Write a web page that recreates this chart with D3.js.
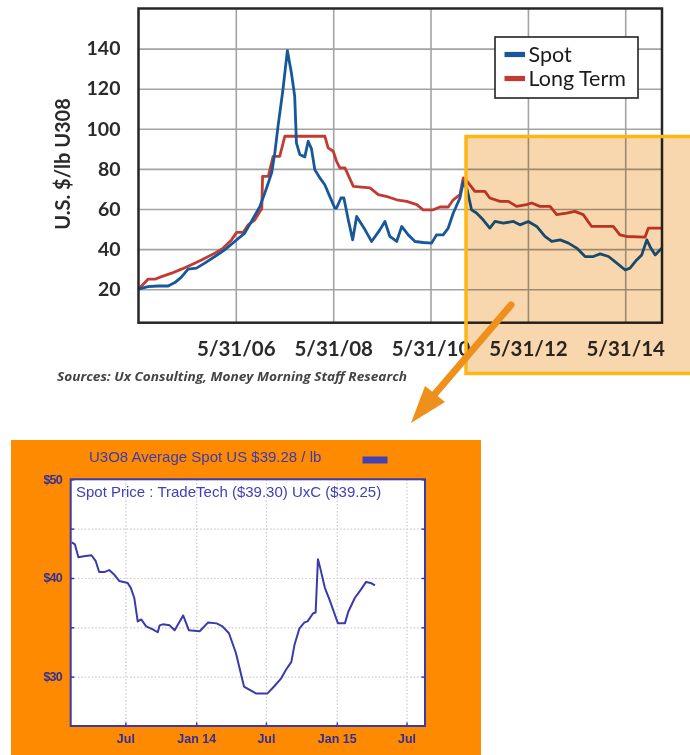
<!DOCTYPE html>
<html><head><meta charset="utf-8">
<script src="https://cdn.jsdelivr.net/npm/d3@7"></script>
<style>body{margin:0;background:#fff}svg{display:block}</style>
</head><body>
<svg id="c" width="690" height="755"></svg>
<script>
// ---------- Top chart data ----------
const seriesNames = ["Spot", "Long Term"];
const spotSeries = [
["2004-05-31",20],["2004-08-10",21.3],["2004-10-25",21.6],["2005-01-08",21.6],["2005-02-28",23.3],
["2005-04-18",26],["2005-06-07",30],["2005-08-09",30.5],["2005-10-10",33],["2005-12-25",36.3],
["2006-03-09",39.6],["2006-05-23",43.8],["2006-08-06",48],["2006-09-25",53.8],["2006-11-28",61.3],
["2007-01-17",70.5],["2007-02-24",78],["2007-03-20",88],["2007-04-13",101.3],["2007-05-20",119.6],
["2007-06-22",139],["2007-07-22",128],["2007-08-16",116.3],["2007-08-29",93],["2007-09-23",87.2],
["2007-10-31",86],["2007-11-25",93.8],["2007-12-20",90],["2008-01-14",79.6],["2008-02-21",75.5],
["2008-03-29",72.1],["2008-05-05",66.3],["2008-06-12",60.5],["2008-06-25",60.5],["2008-07-28",65.5],
["2008-08-19",65.5],["2008-09-21",54.6],["2008-10-24",44.6],["2008-11-23",56.3],["2009-01-25",49.6],
["2009-03-15",43.8],["2009-05-16",49.6],["2009-06-23",53.8],["2009-07-30",46.3],["2009-09-19",43.8],
["2009-10-27",51.3],["2009-12-15",47.1],["2010-02-04",43.8],["2010-04-06",43.3],["2010-06-08",43],
["2010-07-15",47.1],["2010-09-03",47.1],["2010-10-11",50.5],["2010-11-18",58],["2011-01-07",65.5],
["2011-02-01",73.5],["2011-03-02",69.6],["2011-04-04",59.6],["2011-05-11",58],["2011-06-30",54.6],
["2011-08-19",50.5],["2011-09-27",53.8],["2011-11-28",53],["2012-02-12",53.8],["2012-04-01",52.1],
["2012-06-03",53.8],["2012-08-05",51.3],["2012-10-06",46.3],["2012-11-26",43.8],["2013-01-28",44.6],
["2013-03-31",43],["2013-06-01",40.5],["2013-08-03",36.3],["2013-10-04",36.3],["2013-11-24",37.6],
["2014-01-26",36.3],["2014-03-29",33],["2014-05-31",29.6],["2014-07-06",30.5],["2014-08-25",34.6],
["2014-10-02",37.1],["2014-11-09",44.6],["2014-12-09",40.5],["2015-01-11",37.1],["2015-03-01",40.5]
];
const longTermSeries = [
["2004-05-31",20],["2004-08-10",25],["2004-10-01",25],["2004-11-20",26.3],["2005-02-04",28],
["2005-04-18",30],["2005-07-02",32.2],["2005-09-16",34.6],["2005-12-25",38],["2006-02-25",40.5],
["2006-04-29",44.6],["2006-06-05",48.3],["2006-07-25",48.3],["2006-09-01",52.1],["2006-10-21",54.6],
["2006-11-28",58.8],["2006-12-12",60],["2006-12-18",76.3],["2007-01-30",76.3],["2007-03-07",86.3],
["2007-04-26",86.3],["2007-06-03",96.3],["2008-03-29",96.3],["2008-04-23",90.5],["2008-05-31",88.8],
["2008-06-25",83.8],["2008-07-20",80.5],["2008-08-27",80.5],["2008-10-29",71.3],["2009-03-03",70.5],
["2009-05-04",67.2],["2009-07-18",66],["2009-09-19",64.6],["2009-12-04",63.8],["2010-02-17",62.2],
["2010-04-06",59.6],["2010-06-20",59.6],["2010-08-10",61],["2010-10-11",61],["2010-11-18",64.6],
["2011-01-07",67.2],["2011-02-01",75.5],["2011-03-02",73.8],["2011-04-29",68.8],["2011-07-13",68.8],
["2011-08-19",65.5],["2011-11-04",63.8],["2012-01-05",63.8],["2012-03-07",61.3],["2012-05-21",62.2],
["2012-06-28",63],["2012-08-29",61.3],["2012-11-13",61.3],["2013-01-02",57.2],["2013-03-17",58],
["2013-05-18",58.8],["2013-07-20",57.2],["2013-09-21",51.3],["2014-03-02",51.3],["2014-04-21",47.1],
["2014-06-10",46.3],["2014-10-27",46],["2014-11-21",50.5],["2015-03-01",50.5]
];
const topYTicks = [20, 40, 60, 80, 100, 120, 140];
const topXTickDates = ["2006-05-31","2008-05-31","2010-05-31","2012-05-31","2014-05-31"];
const topXTickLabels = ["5/31/06","5/31/08","5/31/10","5/31/12","5/31/14"];
const topYTitle = "U.S. $/lb U308";
const sourceText = "Sources: Ux Consulting, Money Morning Staff Research";

// ---------- Inset chart data ----------
const insetTitle = "U3O8 Average Spot US $39.28 / lb";
const insetSubtitle = "Spot Price : TradeTech ($39.30) UxC ($39.25)";
const insetSeries = [
["2013-02-12",43.6],["2013-02-20",43.4],["2013-03-01",42.1],["2013-03-15",42.2],["2013-04-04",42.3],
["2013-04-15",41.7],["2013-04-24",40.6],["2013-05-07",40.6],["2013-05-20",40.8],["2013-06-03",40.3],
["2013-06-15",39.7],["2013-07-07",39.5],["2013-07-15",39.0],["2013-07-24",38.0],["2013-08-02",35.6],
["2013-08-11",35.8],["2013-08-24",35.1],["2013-09-10",34.8],["2013-09-23",34.5],["2013-09-28",35.2],
["2013-10-06",35.3],["2013-10-24",35.2],["2013-11-06",34.7],["2013-11-28",36.2],["2013-12-13",34.7],
["2014-01-10",34.6],["2014-02-01",35.5],["2014-02-23",35.4],["2014-03-10",35.1],["2014-03-27",34.4],
["2014-04-14",32.4],["2014-05-05",29.0],["2014-06-05",28.3],["2014-07-05",28.3],["2014-07-22",29.0],
["2014-08-09",29.8],["2014-08-22",30.7],["2014-09-05",31.5],["2014-09-13",33.2],["2014-09-26",34.9],
["2014-10-09",35.5],["2014-10-17",35.6],["2014-10-31",36.4],["2014-11-07",36.5],["2014-11-13",41.9],
["2014-11-19",41.0],["2014-12-01",39.0],["2014-12-13",37.8],["2014-12-24",36.6],["2015-01-04",35.4],
["2015-01-22",35.4],["2015-01-31",36.6],["2015-02-17",38.0],["2015-03-04",38.8],["2015-03-18",39.6],
["2015-03-30",39.5],["2015-04-10",39.25]
];
const insetGridValues = [30, 35, 40, 45, 50];
const insetYLabelValues = [50, 40, 30];
const insetXTickDates = ["2013-07-01","2014-01-01","2014-07-01","2015-01-01","2015-07-01"];
const insetXTickLabels = ["Jul","Jan 14","Jul","Jan 15","Jul"];

// ---------- Rendering ----------
const parse = d3.timeParse("%Y-%m-%d");
const svg = d3.select("#c");

// Top chart geometry
const T = {left:138.5, right:662, top:8.5, bottom:322.7};
const xT = d3.scaleTime().domain([parse("2004-05-31"), parse("2015-03-03")]).range([T.left, T.right]);
const yT = d3.scaleLinear().domain([3.3, 160]).range([T.bottom, T.top]);

const gTop = svg.append("g");
// grid
gTop.append("g").call(d3.axisLeft(yT).tickValues(topYTicks).tickSize(-(T.right-T.left)).tickFormat(""))
  .attr("transform",`translate(${T.left},0)`)
  .call(g=>g.select(".domain").remove())
  .call(g=>g.selectAll("line").attr("stroke","#a3a3a3").attr("stroke-width",1.6));
gTop.append("g").call(d3.axisBottom(xT).tickValues(topXTickDates.map(parse)).tickSize(-(T.bottom-T.top)).tickFormat(""))
  .attr("transform",`translate(0,${T.bottom})`)
  .call(g=>g.select(".domain").remove())
  .call(g=>g.selectAll("line").attr("stroke","#a3a3a3").attr("stroke-width",1.6));

const lineT = d3.line().x(d=>xT(parse(d[0]))).y(d=>yT(d[1]));
gTop.append("path").datum(longTermSeries).attr("d",lineT).attr("fill","none")
  .attr("stroke","#c23b33").attr("stroke-width",2.8).attr("stroke-linejoin","round");
gTop.append("path").datum(spotSeries).attr("d",lineT).attr("fill","none")
  .attr("stroke","#17589c").attr("stroke-width",2.8).attr("stroke-linejoin","round");

// frame
gTop.append("rect").attr("x",T.left).attr("y",T.top).attr("width",T.right-T.left).attr("height",T.bottom-T.top)
  .attr("fill","none").attr("stroke","#262626").attr("stroke-width",2.5);

// y tick labels
gTop.append("g").call(d3.axisLeft(yT).tickValues(topYTicks).tickSize(0).tickPadding(18))
  .attr("transform",`translate(${T.left},0)`)
  .call(g=>g.select(".domain").remove())
  .call(g=>g.selectAll("text").attr("font-family","Lato, sans-serif").attr("font-weight","bold")
    .attr("font-size",19.5).attr("fill","#2a2a2a"));
// x tick labels
gTop.append("g").call(d3.axisBottom(xT).tickValues(topXTickDates.map(parse)).tickSize(0).tickPadding(19)
    .tickFormat((d,i)=>topXTickLabels[i]))
  .attr("transform",`translate(0,${T.bottom})`)
  .call(g=>g.select(".domain").remove())
  .call(g=>g.selectAll("text").attr("font-family","Lato, sans-serif").attr("font-weight","bold")
    .attr("font-size",20.5).attr("fill","#2a2a2a"));

// y title
gTop.append("text").attr("transform","translate(70,164) rotate(-90)").attr("text-anchor","middle")
  .attr("font-family","Lato, sans-serif").attr("font-weight","bold").attr("font-size",20)
  .attr("fill","#2a2a2a").text(topYTitle);

// sources
gTop.append("text").attr("x",57).attr("y",381).attr("font-family","'Open Sans', sans-serif")
  .attr("font-style","italic").attr("font-weight","bold").attr("font-size",12.5).attr("fill","#444")
  .attr("textLength",350).attr("lengthAdjust","spacingAndGlyphs")
  .text(sourceText);

// legend
const leg = gTop.append("g");
leg.append("rect").attr("x",495).attr("y",37).attr("width",143).attr("height",61)
  .attr("fill","#fff").attr("stroke","#222").attr("stroke-width",1.6);
const legColors = ["#17589c","#c23b33"];
seriesNames.forEach((n,i)=>{
  const cy = 54.5 + i*24;
  leg.append("rect").attr("x",504.5).attr("y",cy-2.6).attr("width",20.5).attr("height",5.2).attr("fill",legColors[i]);
  leg.append("text").attr("x",528.5).attr("y",cy+7).attr("font-family","Lato, sans-serif")
    .attr("font-size",21.5).attr("fill","#1a1a1a").text(n);
});

// highlight overlay (multiply)
svg.append("rect").attr("x",466).attr("y",136.5).attr("width",240).attr("height",237)
  .attr("fill","#f8d7ae").style("mix-blend-mode","multiply");
svg.append("path").attr("d","M700,136.5 H466 V373.5 H700").attr("fill","none")
  .attr("stroke","#fdb714").attr("stroke-width",3.5);

// arrow
svg.append("line").attr("x1",511).attr("y1",305).attr("x2",428).attr("y2",402)
  .attr("stroke","#f0901c").attr("stroke-width",7).attr("stroke-linecap","round");
svg.append("path").attr("d","M411,423 L425,386 L445,402 Z").attr("fill","#f0901c");

// ---------- Inset chart ----------
const I = {left:70.7, right:425, top:479.3, bottom:726};
svg.append("rect").attr("x",11).attr("y",440).attr("width",470).attr("height",315).attr("fill","#fe8a02");
svg.append("rect").attr("x",I.left).attr("y",I.top).attr("width",I.right-I.left).attr("height",I.bottom-I.top).attr("fill","#fff");

const xI = d3.scaleTime().domain([parse("2013-02-09"), parse("2015-08-18")]).range([I.left, I.right]);
const yI = d3.scaleLinear().domain([25, 50]).range([I.bottom, I.top]);
const gI = svg.append("g");
const blue = "#3a3aab";

gI.append("g").call(d3.axisLeft(yI).tickValues(insetGridValues.slice(0,4)).tickSize(-(I.right-I.left)).tickFormat(""))
  .attr("transform",`translate(${I.left},0)`)
  .call(g=>g.select(".domain").remove())
  .call(g=>g.selectAll("line").attr("stroke","#c9c9d4").attr("stroke-width",1.2).attr("stroke-dasharray","1.5,2"));
gI.append("g").call(d3.axisBottom(xI).tickValues(insetXTickDates.map(parse)).tickSize(-(I.bottom-I.top)).tickFormat(""))
  .attr("transform",`translate(0,${I.bottom})`)
  .call(g=>g.select(".domain").remove())
  .call(g=>g.selectAll("line").attr("stroke","#c9c9d4").attr("stroke-width",1.2).attr("stroke-dasharray","1.5,2"));

// small inward ticks
gI.append("g").call(d3.axisRight(yI).tickValues(insetGridValues).tickSize(3.5).tickFormat(""))
  .attr("transform",`translate(${I.left},0)`)
  .call(g=>g.select(".domain").remove()).call(g=>g.selectAll("line").attr("stroke",blue).attr("stroke-width",1.5));
gI.append("g").call(d3.axisLeft(yI).tickValues(insetGridValues).tickSize(3.5).tickFormat(""))
  .attr("transform",`translate(${I.right},0)`)
  .call(g=>g.select(".domain").remove()).call(g=>g.selectAll("line").attr("stroke",blue).attr("stroke-width",1.5));
gI.append("g").call(d3.axisTop(xI).tickValues(insetXTickDates.map(parse)).tickSize(3.5).tickFormat(""))
  .attr("transform",`translate(0,${I.bottom})`)
  .call(g=>g.select(".domain").remove()).call(g=>g.selectAll("line").attr("stroke",blue).attr("stroke-width",1.5));

const lineI = d3.line().x(d=>xI(parse(d[0]))).y(d=>yI(d[1]));
gI.append("path").datum(insetSeries).attr("d",lineI).attr("fill","none")
  .attr("stroke",blue).attr("stroke-width",2).attr("stroke-linejoin","round");

gI.append("rect").attr("x",I.left).attr("y",I.top).attr("width",I.right-I.left).attr("height",I.bottom-I.top)
  .attr("fill","none").attr("stroke",blue).attr("stroke-width",2);

// inset labels
gI.append("g").call(d3.axisLeft(yI).tickValues(insetYLabelValues).tickSize(0).tickPadding(9).tickFormat(d=>"$"+d))
  .attr("transform",`translate(${I.left},0)`)
  .call(g=>g.select(".domain").remove())
  .call(g=>g.selectAll("text").attr("font-family","'Liberation Sans', Arial, sans-serif").attr("font-weight","bold")
    .attr("font-size",12.5).attr("letter-spacing","-0.9").attr("fill","#2f2f9a"));
gI.append("g").call(d3.axisBottom(xI).tickValues(insetXTickDates.map(parse)).tickSize(0).tickPadding(8)
    .tickFormat((d,i)=>insetXTickLabels[i]))
  .attr("transform",`translate(0,${I.bottom})`)
  .call(g=>g.select(".domain").remove())
  .call(g=>g.selectAll("text").attr("font-family","'Liberation Sans', Arial, sans-serif").attr("font-weight","bold")
    .attr("font-size",12.5).attr("fill","#2f2f9a"));

gI.append("text").attr("x",89).attr("y",462).attr("font-family","'Liberation Sans', Arial, sans-serif")
  .attr("font-size",15).attr("fill","#3b3bb0").text(insetTitle);
gI.append("rect").attr("x",362.5).attr("y",456.5).attr("width",25).attr("height",7).attr("fill","#4242b4");
gI.append("text").attr("x",76).attr("y",497).attr("font-family","'Liberation Sans', Arial, sans-serif")
  .attr("font-size",15).attr("fill","#4040b8").text(insetSubtitle);
</script>
</body></html>
